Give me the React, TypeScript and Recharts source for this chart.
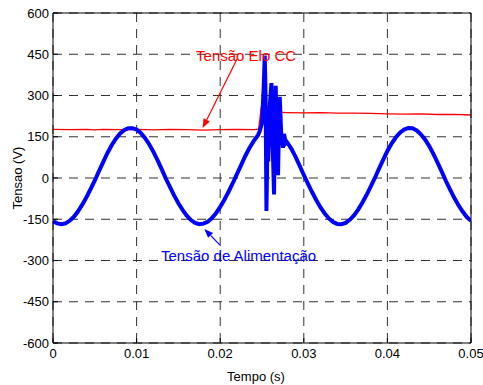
import React from "react";
import {
  LineChart,
  Line,
  XAxis,
  YAxis,
  CartesianGrid,
  ReferenceLine,
  ReferenceDot,
  Label,
} from "recharts";

// Tensão de alimentação (azul)
const tempoAlim = [
  0, 0.0005, 0.001, 0.0015, 0.002, 0.0025, 0.003, 0.0035, 0.004, 0.0045,
  0.005, 0.0055, 0.006, 0.0065, 0.007, 0.0075, 0.008, 0.0085, 0.009, 0.0095,
  0.01, 0.0105, 0.011, 0.0115, 0.012, 0.0125, 0.013, 0.0135, 0.014, 0.0145,
  0.015, 0.0155, 0.016, 0.0165, 0.017, 0.0175, 0.018, 0.0185, 0.019, 0.0195,
  0.02, 0.0205, 0.021, 0.0215, 0.022, 0.0225, 0.023, 0.0235, 0.024, 0.0245,
  0.0247, 0.025, 0.0252, 0.02533, 0.02543, 0.02553, 0.02565, 0.02575, 0.0259,
  0.02613, 0.02625, 0.02644, 0.02655, 0.02664, 0.02678, 0.02692, 0.02702,
  0.02712, 0.0273, 0.02751, 0.02762, 0.02772, 0.02782, 0.028, 0.0285,
  0.029, 0.0295, 0.03, 0.0305, 0.031, 0.0315, 0.032, 0.0325, 0.033, 0.0335,
  0.034, 0.0345, 0.035, 0.0355, 0.036, 0.0365, 0.037, 0.0375, 0.038, 0.0385,
  0.039, 0.0395, 0.04, 0.0405, 0.041, 0.0415, 0.042, 0.0425, 0.043, 0.0435,
  0.044, 0.0445, 0.045, 0.0455, 0.046, 0.0465, 0.047, 0.0475, 0.048, 0.0485,
  0.049, 0.0495, 0.05,
];
const tensaoAlim = [
  -157, -165, -168, -165, -155, -141, -121, -97, -70, -40,
  -9, 25, 58, 90, 118, 142, 161, 174, 181, 181,
  176, 164, 146, 123, 96, 65, 32, -2, -33, -64,
  -92, -116, -137, -153, -163, -168, -166, -159, -146, -128,
  -105, -79, -50, -19, 14, 47, 80, 109, 134, 155,
  168, 200, 330, 445, 300, -120, 120, 60, 250,
  345, 150, -60, 200, 335, 150, 10, 180,
  295, 160, 110, 160, 148, 125, 130, 107,
  78, 45, 11, -21, -52, -81, -107, -129, -147, -160,
  -167, -168, -163, -152, -136, -115, -90, -62, -31, 0,
  34, 67, 98, 125, 147, 165, 176, 182, 181, 173,
  159, 140, 116, 88, 56, 23, -11, -42, -72, -99,
  -122, -142, -156,
];

// Tensão Elo CC (vermelho)
const tempoElo = [
  0, 0.002, 0.004, 0.005, 0.006, 0.008, 0.01, 0.012, 0.014, 0.016, 0.018,
  0.02, 0.022, 0.024, 0.0246, 0.0249, 0.0252, 0.026, 0.028, 0.03, 0.032,
  0.034, 0.036, 0.038, 0.04, 0.042, 0.044, 0.046, 0.048, 0.05,
];
const tensaoElo = [
  177, 176, 177, 175, 177, 176, 177, 175, 177, 176, 174,
  176, 177, 176, 178, 255, 243, 240, 238, 237, 238,
  236, 236, 235, 233, 232, 233, 231, 231, 229,
];

const xTicks = [0, 0.01, 0.02, 0.03, 0.04, 0.05];
const yTicks = [-600, -450, -300, -150, 0, 150, 300, 450, 600];

const alimData = tempoAlim.map((t, i) => ({ t, v: tensaoAlim[i] }));
const eloData = tempoElo.map((t, i) => ({ t, v: tensaoElo[i] }));

const font = "'Liberation Sans', Arial, sans-serif";
const tickStyle = { fill: "#000", fontSize: 13, fontFamily: font };

const arrow = (color: string) => (props: any) => {
  const { x1, y1, x2, y2 } = props;
  const ang = Math.atan2(y2 - y1, x2 - x1);
  const len = 9;
  const w = 3.5;
  const bx = x2 - len * Math.cos(ang);
  const by = y2 - len * Math.sin(ang);
  const px = -Math.sin(ang) * w;
  const py = Math.cos(ang) * w;
  return (
    <g>
      <line x1={x1} y1={y1} x2={bx} y2={by} stroke={color} strokeWidth={1.2} />
      <polygon
        points={`${x2},${y2} ${bx + px},${by + py} ${bx - px},${by - py}`}
        fill={color}
      />
    </g>
  );
};

const note = (text: string, color: string) => (props: any) => (
  <text
    x={props.cx}
    y={props.cy}
    fill={color}
    fontSize={15}
    fontFamily={font}
    textAnchor="middle"
    dominantBaseline="central"
  >
    {text}
  </text>
);

export default function App() {
  return (
    <div style={{ position: "absolute", left: 0, top: 0, background: "#fff" }}>
      <LineChart
        width={483}
        height={385}
        margin={{ top: 12, right: 11, bottom: 0, left: 0 }}
        style={{ fontFamily: font }}
      >
        <CartesianGrid stroke="#333" strokeDasharray="9 7" />
        <XAxis
          dataKey="t"
          type="number"
          domain={[0, 0.05]}
          ticks={xTicks}
          allowDataOverflow
          height={42}
          tickSize={-5}
          tickMargin={11}
          tick={tickStyle}
          stroke="#000"
          interval={0}
        >
          <Label
            content={(p: any) => (
              <text
                x={256}
                y={p.viewBox.y + 33}
                fill="#000"
                fontSize={13}
                fontFamily={font}
                textAnchor="middle"
                dominantBaseline="central"
              >
                Tempo (s)
              </text>
            )}
          />
        </XAxis>
        <XAxis
          xAxisId="top"
          orientation="top"
          dataKey="t"
          type="number"
          domain={[0, 0.05]}
          ticks={xTicks}
          allowDataOverflow
          height={1}
          tickSize={-5}
          tick={false}
          stroke="#000"
        />
        <YAxis
          type="number"
          domain={[-600, 600]}
          ticks={yTicks}
          allowDataOverflow
          width={53}
          tickSize={-5}
          tickMargin={9}
          tick={tickStyle}
          stroke="#000"
          interval={0}
        >
          <Label
            content={(p: any) => {
              const cx = 17;
              const cy = p.viewBox.y + p.viewBox.height / 2;
              return (
                <text
                  x={cx}
                  y={cy}
                  transform={`rotate(-90, ${cx}, ${cy})`}
                  fill="#000"
                  fontSize={13}
                  fontFamily={font}
                  textAnchor="middle"
                  dominantBaseline="central"
                >
                  Tensao (V)
                </text>
              );
            }}
          />
        </YAxis>
        <YAxis
          yAxisId="right"
          orientation="right"
          type="number"
          domain={[-600, 600]}
          ticks={yTicks}
          allowDataOverflow
          width={1}
          tickSize={-5}
          tick={false}
          stroke="#000"
        />
        <Line
          data={eloData}
          dataKey="v"
          type="linear"
          stroke="#ff0000"
          strokeWidth={1.3}
          dot={false}
          isAnimationActive={false}
        />
        <Line
          data={alimData}
          dataKey="v"
          type="linear"
          stroke="#0000ff"
          strokeWidth={4}
          dot={false}
          isAnimationActive={false}
        />
        <ReferenceLine
          segment={[
            { x: 0.022, y: 432 },
            { x: 0.0179, y: 182 },
          ]}
          shape={arrow("#ff0000")}
        />
        <ReferenceLine
          segment={[
            { x: 0.01995, y: -243 },
            { x: 0.0181, y: -185 },
          ]}
          shape={arrow("#0000ff")}
        />
        <ReferenceDot x={0.0231} y={447} r={0} shape={note("Tensão Elo CC", "#ff0000")} />
        <ReferenceDot
          x={0.0222}
          y={-280}
          r={0}
          shape={note("Tensão de Alimentação", "#0000ff")}
        />
      </LineChart>
    </div>
  );
}
